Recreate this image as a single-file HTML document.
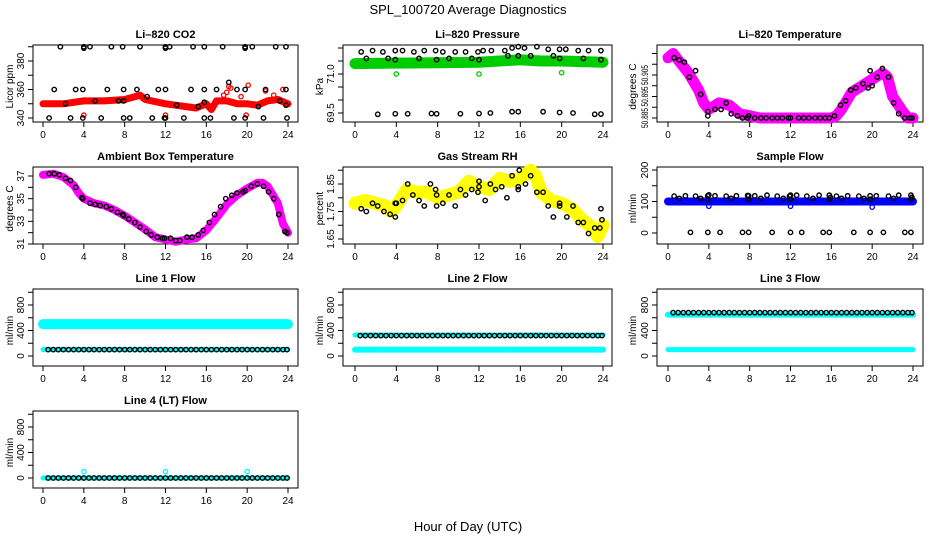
<!DOCTYPE html>
<html><head><meta charset="utf-8">
<style>
html,body{margin:0;padding:0;background:#fff;}
svg{display:block;font-family:"Liberation Sans",sans-serif;}
</style></head>
<body>
<svg id="chart" width="936" height="540" viewBox="0 0 936 540" xmlns="http://www.w3.org/2000/svg">
<rect x="0" y="0" width="936" height="540" fill="#fff"/>
<text x="468" y="14" text-anchor="middle" font-size="13">SPL_100720  Average Diagnostics</text>
<text x="468" y="531" text-anchor="middle" font-size="13">Hour of Day (UTC)</text>
</svg>
<script>
// ---------- data ----------
const xTicks = [0,4,8,12,16,20,24];
const lineHours = [0.5,1,1.5,2,2.5,3,3.5,4,4.5,5,5.5,6,6.5,7,7.5,8,8.5,9,9.5,10,10.5,11,11.5,12,12.5,13,13.5,14,14.5,15,15.5,16,16.5,17,17.5,18,18.5,19,19.5,20,20.5,21,21.5,22,22.5,23,23.5,23.9];

const co2BandH = [0,2,4,6,8,9.5,10,12,13,14,15,16,16.5,17,18,19,20,21,22,23,24];
const co2BandV = [350,350,352,352,353,356,353,350,349,348,347,350,346,352,352,350,350,349,352,353,350];
const co2BlackH = [1.7,4,4,4.6,6.7,7.8,9.5,12,12,12.4,14.7,15.8,17.6,19.8,19.8,20.5,22.8,23.8,1.1,3.2,3.9,6.3,7.9,9.2,11.3,12,14.5,15.8,17,19,19.8,21.8,23.8,2.2,5.1,7.4,7.9,10.2,13.1,15.2,15.8,18.2,21.1,23.2,23.8,0.6,2.7,3.9,5.7,7.9,8.5,10.7,11.9,12,13.8,15.8,16.4,18.7,19.8,21.6,23.9];
const co2BlackV = [390,390,389,390,390,390,390,390,389,390,390,390,390,390,389,390,390,390,360,360,360,360,360,360,360,360,360,360,360,360,360,360,360,350,352,352,352,355,349,348,351,365,348,352,349,340,340,340,340,340,340,340,340,340,340,340,340,340,340,340,340];
const co2ExtraH = [4,12,18.2,18.4,20.1,19.9,17.7,18,19.4,21.8,23.5,22.6];
const co2ExtraV = [342,342,362,361,363,342,356,358,355,359,360,356];

const presBandH = [0,4,8,12,14,16,18,20,24];
const presBandV = [71.4,71.42,71.43,71.45,71.5,71.55,71.5,71.5,71.45];
const presBlackH = [0.6,1.1,1.7,2.7,3.2,3.9,3.9,4.6,5.7,6.2,6.7,7.8,7.9,8.5,9.1,9.7,10.7,11.3,11.9,12,12.4,13.2,14.5,14.8,15.2,15.8,15.8,16.4,17,17.6,18.7,19.2,19.8,19.8,20.4,21.6,22.1,22.6,23.8,23.8,2.2,3.9,5.1,7.4,7.9,10.2,12,13.1,15.2,15.8,18.2,19.8,21.1,23.2,23.8];
const presBlackV = [71.85,71.6,71.9,71.85,71.6,71.55,71.9,71.9,71.85,71.6,71.9,71.9,71.55,71.85,71.6,71.85,71.85,71.6,71.85,71.55,71.9,71.9,71.9,71.7,72,72.05,71.7,72,71.7,72.05,71.95,71.7,71.95,71.6,71.95,71.9,71.6,71.9,71.9,71.55,69.45,69.47,69.47,69.48,69.47,69.47,69.48,69.5,69.55,69.55,69.55,69.52,69.5,69.45,69.46];
const presExtraH = [4,12,20];
const presExtraV = [71.0,71.0,71.05];

const tempBandH = [0,0.5,1,2,3,3.5,4,5,6,7,8,9,12,16,16.5,17,18,19,20,21,21.5,22,23,23.5,24];
const tempBandV = [50.913,50.915,50.912,50.906,50.898,50.892,50.889,50.892,50.891,50.887,50.886,50.885,50.885,50.885,50.886,50.889,50.897,50.9,50.903,50.906,50.904,50.895,50.888,50.885,50.885];
const tempBlackH = [0.6,1.1,1.6,2.1,2.7,3.2,3.9,3.9,4.6,5.2,5.7,6.2,6.8,7.3,7.8,7.9,8.5,9.1,9.6,10.2,10.7,11.2,11.8,12,12.8,13.3,13.8,14.4,14.9,15.4,15.8,16.3,16.9,17.4,17.9,18.4,19.1,19.6,19.8,20,20.5,21,21.6,22.1,22.6,23.2,23.7,23.9];
const tempBlackV = [50.913,50.912,50.911,50.904,50.907,50.896,50.888,50.886,50.889,50.889,50.892,50.887,50.886,50.885,50.885,50.886,50.885,50.885,50.885,50.885,50.885,50.885,50.885,50.885,50.885,50.885,50.885,50.885,50.885,50.885,50.885,50.886,50.891,50.893,50.898,50.899,50.901,50.899,50.907,50.9,50.904,50.908,50.904,50.892,50.887,50.885,50.885,50.885];

const ambBandH = [0,1,2,3,3.5,4,5,6,7,8,9,10,11,12,13,14,15,16,17,18,19,20,21,21.5,22,23,23.5,24];
const ambBandV = [37.1,37.2,36.9,36.2,35.5,35,34.6,34.4,34,33.5,32.9,32.3,31.6,31.4,31.2,31.4,31.5,32.2,33.3,34.5,35.3,35.9,36.4,36.4,36.1,34.6,32.8,32];
const ambBlackH = [0.6,1.1,1.6,2.2,2.7,3.2,3.8,3.9,4.6,5.1,5.6,6.2,6.7,7.3,7.8,7.9,8.4,9,9.5,10.1,10.6,11.2,11.7,11.9,12.5,13,13.4,14.1,14.6,15.2,15.7,16.3,16.8,17.4,17.9,18.5,19,19.6,19.8,20.4,21,21.6,22.1,22.6,23.1,23.7,23.9];
const ambBlackV = [37.2,37.2,37.1,36.8,36.6,36,35.1,35,34.6,34.5,34.4,34.3,34.1,33.8,33.6,33.5,33.2,32.9,32.5,32.1,31.8,31.6,31.5,31.5,31.5,31.3,31.3,31.6,31.6,31.8,32.2,32.9,33.6,34.3,35,35.3,35.5,35.6,35.7,36.1,36.3,36.1,35.6,35,33.6,32.1,32];

const rhBandH = [0,1,2,3,3.5,4,5,6,7,8,9,10,11,12,13,14,15,16,17,17.5,18,19,20,21,22,23,23.5,24];
const rhBandV = [1.78,1.79,1.78,1.77,1.75,1.77,1.83,1.82,1.82,1.8,1.81,1.82,1.86,1.84,1.83,1.87,1.86,1.87,1.9,1.88,1.82,1.79,1.78,1.76,1.72,1.69,1.66,1.7];
const rhBlackH = [0.6,1.1,1.7,2.2,2.8,3.4,3.9,3.9,4,4.6,5.1,5.6,6.2,6.7,7.3,7.8,7.9,7.9,8.5,9.1,9.7,10.2,10.7,11.3,11.9,12,12,12.6,13.1,13.6,14.2,14.7,15.2,15.8,15.8,15.9,16.5,17,17.6,18.2,18.7,19.2,19.8,19.8,20.5,21.1,21.6,22.1,22.6,23.2,23.7,23.8,23.9];
const rhBlackV = [1.76,1.75,1.78,1.77,1.75,1.74,1.73,1.78,1.78,1.79,1.85,1.81,1.79,1.77,1.85,1.83,1.77,1.81,1.78,1.81,1.77,1.83,1.81,1.83,1.82,1.84,1.86,1.79,1.85,1.83,1.84,1.8,1.88,1.84,1.83,1.9,1.85,1.88,1.82,1.82,1.77,1.73,1.77,1.78,1.73,1.77,1.71,1.71,1.67,1.69,1.69,1.76,1.72];

const flowBandH = [0,24];
const flowBandV = [100,100];
const flowBlackH = [0.6,1.1,1.7,2.7,3.2,3.9,3.9,4,4.6,5.7,6.2,6.7,7.8,7.9,7.9,8.5,9.1,9.7,10.7,11.3,11.9,12,12,12.6,13.6,14.2,14.8,15.8,15.8,15.9,16.5,17,17.6,18.7,19.2,19.8,19.8,20.4,21.6,22.1,22.6,23.8,23.8,23.9,2.2,3.9,5.1,7.3,7.9,10.2,12,13.1,15.2,15.8,18.2,19.8,21.1,23.2,23.8];
const flowBlackV = [117,110,118,117,110,107,118,121,118,117,110,118,119,107,118,118,110,120,117,110,117,107,120,120,117,110,120,120,107,113,117,110,118,117,110,118,107,118,117,110,120,120,107,113,2,2,2,2,2,2,2,2,2,2,2,2,2,2,2];
const flowExtraH = [4,12,20];
const flowExtraV = [85,85,82];

const line1CyanHighV = [500,500];
const line1CyanLowV = [100,100];
const line1BlackV = lineHours.map(()=>100);
const line2CyanV = [100,100];
const line2BlackV = lineHours.map(()=>320);
const line3CyanHighV = [650,650];
const line3CyanLowV = [100,100];
const line3BlackV = lineHours.map(()=>680);
const line4CyanV = [0,0];
const line4BlackV = lineHours.map(()=>0);
const line4ExtraH = [4,12,20];
const line4ExtraV = [100,100,100];

// ---------- layout ----------
const NS = "http://www.w3.org/2000/svg";
const svg = document.getElementById('chart');
const cols = [{l:33,r:298,x0:43,x24:288,lab:10},{l:343,r:612,x0:355,x24:603,lab:320},{l:657,r:923,x0:668,x24:913,lab:633}];
const rowTops = [45,167,289,411];
const boxH = 77;

function el(tag, attrs, parent){
  const e = document.createElementNS(NS, tag);
  for (const k in attrs) e.setAttribute(k, attrs[k]);
  (parent||svg).appendChild(e);
  return e;
}

function makePanel(cfg){
  const c = cols[cfg.col], top = rowTops[cfg.row], bot = top + boxH;
  const g = el('g', {});
  
  
  const xs = h => c.x0 + (c.x24 - c.x0) * h / 24;
  const ys = v => cfg.p0 + (cfg.p1 - cfg.p0) * (v - cfg.d0) / (cfg.d1 - cfg.d0);
  const box = el('rect', {x:c.l, y:top, width:c.r-c.l, height:boxH, fill:'none', stroke:'#000', 'stroke-width':1}, g);
  
  
  const t = el('text', {x:(c.l+c.r)/2, y:top-7, 'text-anchor':'middle', 'font-size':11, 'font-weight':'bold'}, g);
  t.textContent = cfg.title;
  
  
  xTicks.forEach(h => {
    const x = xs(h);
    el('line', {x1:x, x2:x, y1:bot, y2:bot+5, stroke:'#000'}, g);
    const tl = el('text', {x:x, y:bot+16, 'text-anchor':'middle', 'font-size':10}, g);
    tl.textContent = h;
    
    
  });
  cfg.yTicks.forEach(v => {
    const y = ys(v);
    el('line', {x1:c.l-5, x2:c.l, y1:y, y2:y, stroke:'#000'}, g);
  });
  cfg.yLabVals.forEach((v,i) => {
    const y = ys(v), x = c.l - 9;
    const attrs = {x:x, y:y, 'text-anchor':'middle', 'font-size':cfg.yFont||10, transform:`rotate(-90 ${x} ${y})`};
    if (cfg.yLen) { attrs.textLength = cfg.yLen; attrs.lengthAdjust = 'spacingAndGlyphs'; }
    const yl = el('text', attrs, g);
    yl.textContent = cfg.yLabs[i];
    
    
  });
  const ymid = top + boxH/2;
  const yt = el('text', {x:c.lab, y:ymid, 'text-anchor':'middle', 'font-size':10, transform:`rotate(-90 ${c.lab+3} ${ymid})`}, g);
  yt.textContent = cfg.ylab;
  
  
  (cfg.bands||[]).forEach(b => {
    const pts = b.h.map((h,i) => xs(h).toFixed(1)+','+ys(b.v[i]).toFixed(1)).join(' ');
    const pl = el('polyline', {points:pts, fill:'none', stroke:b.color, 'stroke-width':b.w, 'stroke-linejoin':'round', 'stroke-linecap':'round'}, g);
    
    
  });
  (cfg.extras||[]).forEach(s => {
    s.h.forEach((h,i) => {
      const p = el('circle', {cx:xs(h), cy:ys(s.v[i]), r:2.2, fill:'none', stroke:s.color, 'stroke-width':1.3}, g);
      
      
    });
  });
  if (cfg.black){
    cfg.black.h.forEach((h,i) => {
      const p = el('circle', {cx:xs(h), cy:ys(cfg.black.v[i]), r:2.2, fill:'none', stroke:'#000', 'stroke-width':1.4}, g);
      
      
    });
  }
}

const range = (a,b,s) => { const r=[]; for(let v=a; v<=b+1e-9; v+=s) r.push(+v.toFixed(4)); return r; };

makePanel({name:'panel-li820-co2', col:0,row:0,title:'Li\u2013820 CO2',ylab:'Licor ppm',d0:340,d1:380,p0:118,p1:61,
  yTicks:range(340,390,10), yLabVals:[340,360,380], yLabs:['340','360','380'],
  bands:[{h:co2BandH,v:co2BandV,color:'#f00',w:7}],
  extras:[{h:co2ExtraH,v:co2ExtraV,color:'#f00'}], black:{h:co2BlackH,v:co2BlackV}});
makePanel({name:'panel-li820-pressure', col:1,row:0,title:'Li\u2013820 Pressure',ylab:'kPa',d0:69.5,d1:71,p0:113,p1:74,
  yTicks:range(69.5,72,0.5), yLabVals:[69.5,71], yLabs:['69.5','71.0'],
  bands:[{h:presBandH,v:presBandV,color:'#0c0',w:11}],
  extras:[{h:presExtraH,v:presExtraV,color:'#0c0'}], black:{h:presBlackH,v:presBlackV}});
makePanel({name:'panel-li820-temperature', col:2,row:0,title:'Li\u2013820 Temperature',ylab:'degrees C',d0:50.885,d1:50.905,p0:118,p1:75,
  yTicks:range(50.885,50.915,0.005), yLabVals:[50.885,50.895,50.905], yLabs:['50.885','50.895','50.905'], yFont:9, yLen:20,
  bands:[{h:tempBandH,v:tempBandV,color:'#f0f',w:11}], black:{h:tempBlackH,v:tempBlackV}});
makePanel({name:'panel-ambient-box-temperature', col:0,row:1,title:'Ambient Box Temperature',ylab:'degrees C',d0:31,d1:37,p0:244,p1:176,
  yTicks:range(31,37,1), yLabVals:[31,33,35,37], yLabs:['31','33','35','37'],
  bands:[{h:ambBandH,v:ambBandV,color:'#f0f',w:8}], black:{h:ambBlackH,v:ambBlackV}});
makePanel({name:'panel-gas-stream-rh', col:1,row:1,title:'Gas Stream RH',ylab:'percent',d0:1.65,d1:1.85,p0:239,p1:184,
  yTicks:range(1.65,1.9,0.05), yLabVals:[1.65,1.75,1.85], yLabs:['1.65','1.75','1.85'],
  bands:[{h:rhBandH,v:rhBandV,color:'#ff0',w:13}], black:{h:rhBlackH,v:rhBlackV}});
makePanel({name:'panel-sample-flow', col:2,row:1,title:'Sample Flow',ylab:'ml/min',d0:0,d1:200,p0:233,p1:170,
  yTicks:range(0,200,50), yLabVals:[0,100,200], yLabs:['0','100','200'],
  bands:[{h:flowBandH,v:flowBandV,color:'#00f',w:8}],
  extras:[{h:flowExtraH,v:flowExtraV,color:'#00f'}], black:{h:flowBlackH,v:flowBlackV}});
const lineTicks = range(0,1000,200), lineLabV=[0,400,800], lineLabs=['0','400','800'];
makePanel({name:'panel-line1-flow', col:0,row:2,title:'Line 1 Flow',ylab:'ml/min',d0:0,d1:800,p0:356,p1:305,
  yTicks:lineTicks, yLabVals:lineLabV, yLabs:lineLabs,
  bands:[{h:flowBandH,v:line1CyanHighV,color:'#0ff',w:10},{h:flowBandH,v:line1CyanLowV,color:'#0ff',w:5}],
  black:{h:lineHours,v:line1BlackV}});
makePanel({name:'panel-line2-flow', col:1,row:2,title:'Line 2 Flow',ylab:'ml/min',d0:0,d1:800,p0:356,p1:305,
  yTicks:lineTicks, yLabVals:lineLabV, yLabs:lineLabs,
  bands:[{h:flowBandH,v:line2CyanV,color:'#0ff',w:6},{h:flowBandH,v:[330,330],color:'#0ff',w:5}],
  black:{h:lineHours,v:line2BlackV}});
makePanel({name:'panel-line3-flow', col:2,row:2,title:'Line 3 Flow',ylab:'ml/min',d0:0,d1:800,p0:356,p1:305,
  yTicks:lineTicks, yLabVals:lineLabV, yLabs:lineLabs,
  bands:[{h:flowBandH,v:line3CyanHighV,color:'#0ff',w:6},{h:flowBandH,v:line3CyanLowV,color:'#0ff',w:5}],
  black:{h:lineHours,v:line3BlackV}});
makePanel({name:'panel-line4-flow', col:0,row:3,title:'Line 4 (LT) Flow',ylab:'ml/min',d0:0,d1:800,p0:478,p1:427,
  yTicks:lineTicks, yLabVals:lineLabV, yLabs:lineLabs,
  bands:[{h:flowBandH,v:line4CyanV,color:'#0ff',w:5}],
  extras:[{h:line4ExtraH,v:line4ExtraV,color:'#0ff'}], black:{h:lineHours,v:line4BlackV}});
</script>
</body></html>
